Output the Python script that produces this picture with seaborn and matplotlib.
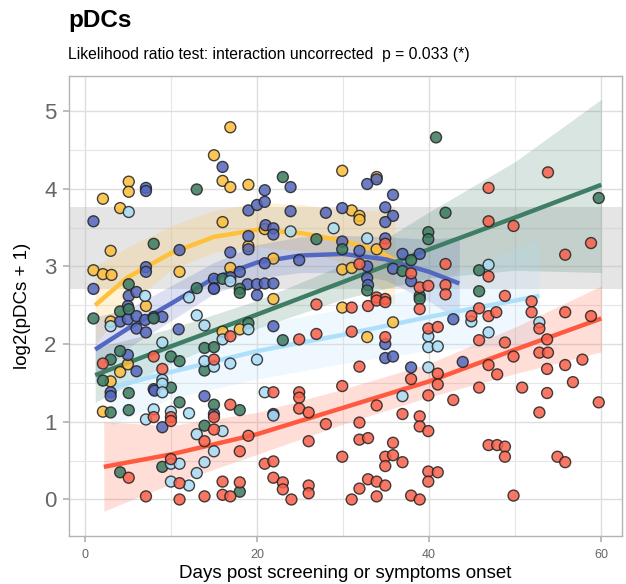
import numpy as np
import pandas as pd
import matplotlib
matplotlib.use("Agg")
import matplotlib.pyplot as plt
import seaborn as sns


# =============================================
# data
# =============================================
groups = ["yellow", "indigo", "green", "lightblue", "red"]

yellow_x = [16.9, 15.0, 16.0, 16.9, 19.0, 5.1, 5.1, 2.1, 4.1, 16.0, 3.0, 1.0, 2.1, 3.1, 11.0,
            16.9, 19.0, 29.9, 33.9, 31.0, 31.9, 31.9, 29.9, 31.0, 33.9, 29.9, 32.8, 35.8, 21.9,
            21.9, 20.9, 3.0, 4.1, 3.0, 5.0, 2.1, 7.1, 16.0, 18.0]
yellow_y = [4.79, 4.43, 4.10, 4.02, 4.05, 4.09, 3.96, 3.87, 3.75, 3.57, 3.20, 2.95, 2.90, 2.89, 2.93,
            2.98, 3.26, 4.23, 4.15, 3.72, 3.65, 3.60, 2.96, 2.98, 3.22, 2.47, 2.09, 2.28, 2.58,
            3.10, 3.48, 2.29, 1.64, 1.52, 1.74, 1.13, 2.49, 2.16, 2.19]

indigo_x = [1.0, 7.1, 7.1, 16.0, 19.0, 20.0, 11.0, 7.1, 7.1, 19.0, 16.9, 19.0, 15.0, 18.0, 1.0,
            5.1, 6.0, 18.9, 20.0, 20.9, 23.9, 20.9, 23.9, 28.0, 29.9, 32.8, 33.9, 35.8, 34.9,
            35.8, 34.9, 34.9, 21.0, 21.9, 21.9, 24.9, 20.9, 29.9, 31.9, 32.8, 32.8, 35.8, 36.9,
            38.9, 37.9, 20.9, 21.9, 16.9, 15.0, 5.0, 4.1, 5.0, 6.0, 7.0, 8.0, 9.0, 6.0, 7.1,
            10.9, 5.0, 6.0, 3.0, 3.0, 8.0, 15.0, 20.0, 21.9, 13.9, 21.9, 34.9, 34.9, 35.8, 37.9,
            32.9, 9.0, 8.1, 15.0, 42.8, 43.9]
indigo_y = [3.58, 4.01, 3.97, 4.28, 3.72, 3.79, 3.21, 2.99, 2.93, 3.39, 3.18, 3.22, 2.84, 2.93, 2.71,
            2.62, 2.67, 2.77, 2.77, 3.98, 4.02, 3.83, 3.71, 3.69, 3.75, 4.06, 4.12, 3.92, 3.76,
            3.65, 3.57, 3.36, 3.53, 3.49, 3.41, 3.08, 3.04, 3.32, 3.20, 3.00, 2.85, 2.97, 3.16,
            3.16, 2.81, 2.78, 2.78, 2.86, 2.72, 2.49, 2.29, 2.32, 2.36, 2.31, 2.35, 2.35, 2.20, 2.15,
            2.19, 1.86, 1.65, 1.38, 1.33, 1.42, 2.71, 2.63, 2.23, 1.33, 1.10, 2.00, 1.82, 1.84, 1.70,
            2.76, 0.93, 1.40, 1.10, 2.32, 1.77]

green_x = [13.0, 8.0, 5.1, 16.0, 18.0, 13.0, 23.0, 40.8, 41.9, 39.9, 39.9, 26.9, 29.9, 32.8, 36.9,
           37.9, 38.9, 38.9, 59.7, 45.8, 45.8, 23.0, 1.0, 4.1, 5.1, 8.0, 18.0, 4.1, 3.0, 2.1,
           3.0, 5.1, 5.1, 10.0, 10.0, 11.0, 13.9, 15.0, 13.9, 15.0, 18.0, 13.9, 9.0, 4.1, 18.0,
           11.0, 19.0]
green_y = [3.99, 3.29, 2.77, 2.84, 2.71, 2.72, 4.15, 4.66, 3.69, 3.44, 3.35, 3.35, 3.22, 2.69, 2.94,
           3.08, 2.62, 2.58, 3.88, 2.95, 2.68, 2.05, 2.33, 2.42, 2.45, 2.33, 2.66, 1.91, 1.80, 1.53,
           1.12, 1.37, 1.15, 1.44, 1.84, 1.78, 1.95, 1.96, 1.66, 1.22, 1.15, 0.95, 0.42, 0.35, 0.10,
           1.25, 2.27]

lightblue_x = [5.1, 16.9, 12.1, 28.9, 32.8, 23.9, 13.0, 13.9, 3.0, 9.0, 16.0, 13.9, 15.0, 16.9, 9.0,
               9.0, 9.0, 8.0, 10.0, 12.1, 7.1, 13.0, 16.0, 15.0, 10.0, 11.0, 13.9, 13.0, 10.0, 12.1,
               20.0, 20.9, 36.9, 39.9, 39.9, 41.0, 39.9, 21.9, 19.0, 46.9, 44.9, 46.9, 52.8, 7.0]
lightblue_y = [3.70, 2.81, 2.60, 3.49, 3.36, 3.45, 2.37, 2.24, 2.23, 2.02, 2.06, 1.78, 1.71, 1.75, 1.54,
               1.49, 1.38, 1.16, 1.13, 1.11, 1.03, 0.84, 0.88, 0.62, 0.46, 0.46, 0.48, 0.34, 0.23, 0.18,
               1.80, 1.38, 1.33, 2.10, 1.96, 1.97, 1.70, 1.08, 2.19, 3.02, 2.29, 2.15, 2.28, 2.62]

red_x = [2.1, 8.0, 16.9, 9.0, 15.0, 16.9, 15.0, 15.0, 10.0, 10.0, 8.0, 13.9, 18.0, 18.0, 16.0,
         19.0, 10.0, 5.1, 7.1, 11.0, 13.9, 16.0, 16.9, 11.0,
         41.9, 34.9, 31.9, 37.9, 38.9, 39.9, 33.9, 34.9, 41.9,
         26.9, 31.0, 32.9, 33.9, 34.9, 38.9, 41.9, 24.9, 26.9, 31.0, 34.9, 39.9, 41.0, 31.9, 37.9,
         41.0, 41.0, 39.9, 21.9, 24.9, 24.9, 24.9, 26.0, 29.9, 33.9, 28.0, 31.9, 36.9, 38.9, 38.9,
         39.9, 26.0, 31.9, 32.9, 35.8, 29.9, 34.9, 35.8, 36.9, 34.9, 20.9, 21.9, 21.9, 23.0, 23.0,
         24.0, 26.0, 26.0, 31.0, 31.9, 32.9, 33.9, 34.9, 33.9, 37.9, 38.9, 39.9, 41.0, 39.9,
         46.9, 53.8, 46.9, 49.8, 58.8, 55.8, 46.9, 48.8, 51.9, 51.9, 55.8, 58.8, 45.8, 44.9, 46.9,
         47.8, 52.8, 45.8, 48.8, 53.7, 52.8, 53.8, 49.8, 57.8, 55.8, 53.7, 46.9, 47.9, 56.7, 45.8,
         50.8, 53.7, 42.8, 59.7, 52.8, 46.9, 47.9, 48.8, 48.8, 54.9, 55.8, 49.8]
red_y = [1.75, 1.84, 2.10, 1.68, 1.80, 1.22, 1.06, 0.90, 1.06, 1.01, 1.06, 0.75, 0.62, 0.22, 0.23,
         0.82, 0.52, 0.28, 0.04, 0.00, 0.04, 0.06, 0.04, 0.21,
         3.03, 3.29, 3.03, 2.91, 2.73, 2.75, 2.60, 2.58, 2.76,
         2.51, 2.47, 2.49, 2.56, 2.54, 2.45, 2.64, 2.06, 2.13, 2.16, 2.09, 2.20, 2.22, 1.71, 1.55,
         1.62, 1.48, 1.34, 1.38, 1.38, 1.31, 1.17, 1.12, 1.46, 1.21, 0.97, 0.99, 1.10, 1.07, 0.94,
         0.88, 0.75, 0.77, 0.79, 0.73, 0.55, 0.55, 0.57, 0.48, 0.43, 0.46, 0.49, 0.28, 0.22, 0.13,
         0.00, 0.18, 0.08, 0.00, 0.14, 0.26, 0.23, 0.18, 0.04, 0.05, 0.00, 0.36, 0.35, 0.23,
         4.01, 4.21, 3.58, 3.52, 3.30, 3.15, 2.87, 2.62, 2.55, 2.41, 2.41, 2.36, 2.46, 2.36, 2.36,
         2.41, 2.20, 2.05, 2.02, 2.06, 1.89, 1.89, 1.84, 1.80, 1.73, 1.68, 1.73, 1.61, 1.51, 1.44,
         1.44, 1.37, 1.28, 1.25, 1.12, 0.70, 0.70, 0.68, 0.55, 0.55, 0.48, 0.05]

# fitted curves with confidence ribbons (x, fit, lower, upper)
yellow_fx = [1.2, 5, 10, 15, 20, 25, 30, 34, 36]
yellow_fy = [2.50, 2.86, 3.17, 3.38, 3.47, 3.43, 3.33, 3.20, 3.08]
yellow_lo = [2.00, 2.50, 2.95, 3.18, 3.25, 3.20, 3.05, 2.75, 2.50]
yellow_hi = [3.00, 3.25, 3.52, 3.72, 3.82, 3.80, 3.72, 3.72, 3.78]

indigo_fx = [1.2, 5, 10, 15, 20, 25, 30, 35, 40, 43.5]
indigo_fy = [1.93, 2.20, 2.52, 2.85, 3.05, 3.14, 3.16, 3.09, 2.93, 2.78]
indigo_lo = [1.50, 1.95, 2.30, 2.65, 2.85, 2.92, 2.92, 2.82, 2.55, 2.30]
indigo_hi = [2.35, 2.45, 2.75, 3.05, 3.28, 3.38, 3.40, 3.38, 3.35, 3.38]

green_fx = [1.2, 10, 20, 30, 40, 50, 60]
green_fy = [1.60, 1.97, 2.38, 2.80, 3.22, 3.63, 4.05]
green_lo = [1.25, 1.75, 2.20, 2.58, 2.85, 2.95, 2.92]
green_hi = [1.95, 2.20, 2.56, 3.02, 3.70, 4.35, 5.15]

lightblue_fx = [3, 10, 20, 30, 40, 52.8]
lightblue_fy = [1.44, 1.64, 1.91, 2.12, 2.35, 2.62]
lightblue_lo = [0.95, 1.30, 1.55, 1.75, 1.92, 2.00]
lightblue_hi = [1.95, 2.05, 2.25, 2.45, 2.78, 3.35]

red_fx = [2.2, 10, 20, 30, 40, 50, 60]
red_fy = [0.42, 0.58, 0.84, 1.18, 1.52, 1.93, 2.33]
red_lo = [-0.15, 0.20, 0.58, 0.97, 1.32, 1.62, 1.90]
red_hi = [1.00, 0.95, 1.12, 1.42, 1.75, 2.22, 2.75]

# reference range band
band_lo, band_hi = 2.71, 3.77

point_colors = {"yellow": "#FDBE3B", "indigo": "#5467BC", "green": "#3B7A5E",
                "lightblue": "#A8DCF5", "red": "#F8604A"}
line_colors = {"yellow": "#FFC13B", "indigo": "#5368C2", "green": "#3F7E64",
               "lightblue": "#AEE0FB", "red": "#FF5A40"}

# =============================================
# tables
# =============================================
points = pd.concat([
    pd.DataFrame({"x": yellow_x, "y": yellow_y, "group": "yellow"}),
    pd.DataFrame({"x": indigo_x, "y": indigo_y, "group": "indigo"}),
    pd.DataFrame({"x": green_x, "y": green_y, "group": "green"}),
    pd.DataFrame({"x": lightblue_x, "y": lightblue_y, "group": "lightblue"}),
    pd.DataFrame({"x": red_x, "y": red_y, "group": "red"}),
], ignore_index=True)

fits = {
    "yellow": (yellow_fx, yellow_fy, yellow_lo, yellow_hi),
    "indigo": (indigo_fx, indigo_fy, indigo_lo, indigo_hi),
    "green": (green_fx, green_fy, green_lo, green_hi),
    "lightblue": (lightblue_fx, lightblue_fy, lightblue_lo, lightblue_hi),
    "red": (red_fx, red_fy, red_lo, red_hi),
}

# =============================================
# plot
# =============================================
sns.set_theme(style="white")
plt.rcParams["font.family"] = ["Liberation Sans", "DejaVu Sans"]
plt.rcParams["text.color"] = "black"

fig = plt.figure(figsize=(6.26, 5.84), dpi=100)
ax = fig.add_axes([69 / 626, 1 - 536 / 584, (622 - 69) / 626, (536 - 76) / 584])

ax.axhspan(band_lo, band_hi, color="#BEBEBE", alpha=0.4, lw=0, zorder=1)

for g in groups:
    fx, fy, lo, hi = fits[g]
    ax.fill_between(fx, lo, hi, color=line_colors[g], alpha=0.2, lw=0, zorder=2)

for g in groups:
    fx, fy, lo, hi = fits[g]
    sns.lineplot(x=fx, y=fy, color=line_colors[g], lw=3.2, ax=ax, zorder=3,
                 solid_capstyle="butt")

sns.scatterplot(data=points, x="x", y="y", hue="group", palette=point_colors,
                s=62, edgecolor="#222222", linewidth=1.0, alpha=0.85,
                legend=False, ax=ax, zorder=4)

ax.set_xlim(-1.84, 62.4)
ax.set_ylim(-0.47, 5.45)
ax.set_xticks([0, 20, 40, 60])
ax.set_xticks([10, 30, 50], minor=True)
ax.set_yticks([0, 1, 2, 3, 4, 5])
ax.set_yticks([0.5, 1.5, 2.5, 3.5, 4.5], minor=True)
ax.grid(which="major", color="#DEDEDE", lw=1.0, zorder=0)
ax.grid(which="minor", color="#E6E6E6", lw=0.8, zorder=0)
ax.set_axisbelow(True)

for sp in ax.spines.values():
    sp.set_color("#B3B3B3")
    sp.set_linewidth(1.0)

ax.tick_params(axis="x", which="major", length=4, color="#B3B3B3", labelsize=9,
               labelcolor="#666666", bottom=True, pad=5)
ax.tick_params(axis="y", which="major", length=4, color="#B3B3B3", labelsize=16,
               labelcolor="#666666", left=True, pad=5)
ax.tick_params(which="minor", length=0)

ax.set_xlabel("Days post screening or symptoms onset", fontsize=13.5, color="black", labelpad=3)
ax.set_ylabel("log2(pDCs + 1)", fontsize=13.5, color="black", labelpad=9)

fig.text(68 / 626, 1 - 21 / 584, "pDCs", fontsize=17.5, fontweight="bold", va="center",
         ha="left", color="black")
fig.text(68 / 626, 1 - 54 / 584, "Likelihood ratio test: interaction uncorrected  p = 0.033 (*)",
         fontsize=11.3, va="center", ha="left", color="black")

fig.savefig("out.png", dpi=100)
plt.close(fig)
